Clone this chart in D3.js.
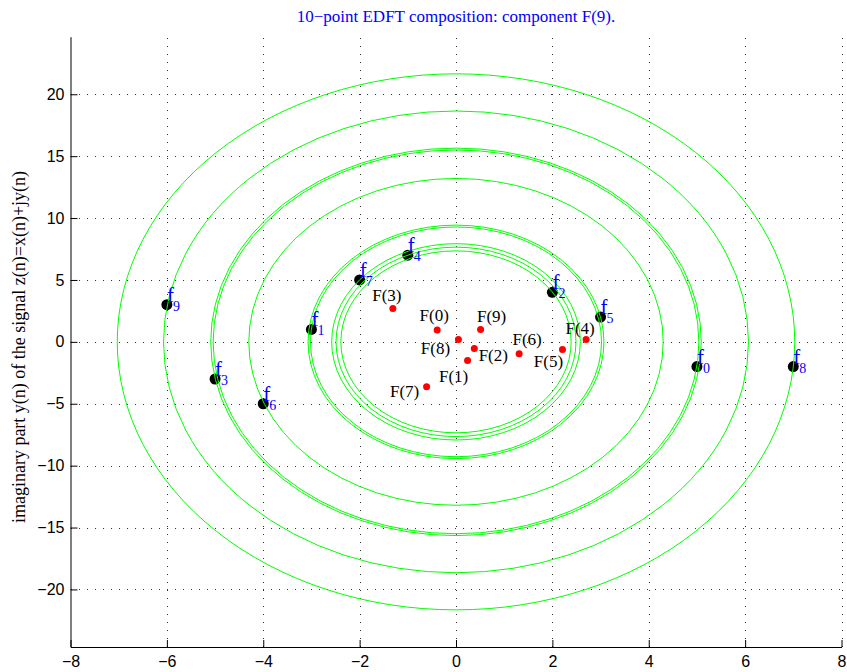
<!DOCTYPE html>
<html>
<head>
<meta charset="utf-8">
<script src="https://cdn.jsdelivr.net/npm/d3@7"></script>
<style>
    body { margin: 0; background: #fff; }
    svg { display: block; }
</style>
</head>
<body>
<script>
(function () {
    'use strict';

    // signal points f(n) = x(n) + j y(n)
    var signalX = [5, -3, 2, -5, -1, 3, -4, -2, 7, -6];
    var signalY = [-2, 1, 4, -3, 7, 2, -5, 5, -2, 3];

    // components F(k)
    var compX = [-0.39, 0.24, 0.38, -1.31, 2.70, 2.21, 1.31, -0.61, 0.05, 0.51];
    var compY = [0.95, -1.50, -0.53, 2.70, 0.19, -0.62, -0.97, -3.63, 0.19, 1.00];

    // ellipse half axes, one per signal point
    var ellRx = [7.03, 6.07, 5.09, 5.04, 4.30, 3.07, 3.02, 2.58, 2.49, 2.39];
    var ellRy = [21.65, 18.65, 15.65, 15.50, 13.20, 9.43, 9.28, 7.93, 7.65, 7.35];

    var xTicks = [-8, -6, -4, -2, 0, 2, 4, 6, 8];
    var yTicks = [-20, -15, -10, -5, 0, 5, 10, 15, 20];

    var title = '10\u2212point EDFT composition: component F(9).';
    var yTitle = 'imaginary part y(n) of the signal z(n)=x(n)+jy(n)';

    // label nudges in pixels for F(k) (layout only)
    var compLabelDx = [-3, -14, 19, -6, -6, -14, 8, -22, -23, 11];
    var compLabelDy = [-15, 16, 7, -13, -11, 12, -14, 5, 9, -13];

    var width = 847;
    var height = 672;
    var serif = '"Liberation Serif", "Times New Roman", serif';
    var sans = '"Liberation Sans", Arial, Helvetica, sans-serif';

    var x = d3.scaleLinear().domain([-8, 8]).range([70.5, 841.5]);
    var y = d3.scaleLinear().domain([-24.65, 24.65]).range([647, 36.7]);

    var svg = d3.select('body')
        .append('svg')
        .attr('width', width)
        .attr('height', height)
        ;

    // grid
    var grid = svg.append('g')
        .attr('stroke', '#333')
        .attr('stroke-width', 1)
        .attr('stroke-dasharray', '1,7')
        .attr('shape-rendering', 'crispEdges')
        ;

    grid.selectAll('line.gx')
        .data(xTicks.slice(1))
        .enter()
        .append('line')
        .attr('class', 'gx')
        .attr('x1', function (d) { return Math.round(x(d)) + 0.5; })
        .attr('x2', function (d) { return Math.round(x(d)) + 0.5; })
        .attr('y1', y.range()[0])
        .attr('y2', y.range()[1])
        ;

    grid.selectAll('line.gy')
        .data(yTicks)
        .enter()
        .append('line')
        .attr('class', 'gy')
        .attr('x1', x.range()[0])
        .attr('x2', x.range()[1])
        .attr('y1', function (d) { return Math.round(y(d)) + 0.5; })
        .attr('y2', function (d) { return Math.round(y(d)) + 0.5; })
        ;

    // signal points (drawn under the ellipses)
    svg.append('g')
        .selectAll('circle')
        .data(d3.range(signalX.length))
        .enter()
        .append('circle')
        .attr('cx', function (i) { return x(signalX[i]); })
        .attr('cy', function (i) { return y(signalY[i]); })
        .attr('r', 5.5)
        .attr('fill', '#000')
        ;

    // ellipses
    svg.append('g')
        .selectAll('ellipse')
        .data(d3.range(ellRx.length))
        .enter()
        .append('ellipse')
        .attr('cx', x(0))
        .attr('cy', y(0))
        .attr('rx', function (i) { return x(ellRx[i]) - x(0); })
        .attr('ry', function (i) { return y(0) - y(ellRy[i]); })
        .attr('fill', 'none')
        .attr('stroke', '#00ff00')
        .attr('stroke-width', 1)
        ;

    // components
    svg.append('g')
        .selectAll('circle')
        .data(d3.range(compX.length))
        .enter()
        .append('circle')
        .attr('cx', function (i) { return x(compX[i]); })
        .attr('cy', function (i) { return y(compY[i]); })
        .attr('r', 3.5)
        .attr('fill', '#ff0000')
        ;

    svg.append('g')
        .selectAll('text')
        .data(d3.range(compX.length))
        .enter()
        .append('text')
        .text(function (i) { return 'F(' + i + ')'; })
        .attr('x', function (i) { return x(compX[i]) + compLabelDx[i]; })
        .attr('y', function (i) { return y(compY[i]) + compLabelDy[i]; })
        .attr('dy', '0.33em')
        .attr('text-anchor', 'middle')
        .attr('font-family', serif)
        .attr('font-size', 17)
        .attr('fill', '#000')
        ;

    // f labels with subscripts
    var fl = svg.append('g')
        .attr('font-family', serif)
        .attr('fill', '#0000ff')
        ;

    fl.selectAll('text.f')
        .data(d3.range(signalX.length))
        .enter()
        .append('text')
        .attr('class', 'f')
        .text('f')
        .attr('x', function (i) { return x(signalX[i]); })
        .attr('y', function (i) { return y(signalY[i]) - 3; })
        .attr('font-size', 21)
        ;

    fl.selectAll('text.n')
        .data(d3.range(signalX.length))
        .enter()
        .append('text')
        .attr('class', 'n')
        .text(function (i) { return i; })
        .attr('x', function (i) { return x(signalX[i]) + 6; })
        .attr('y', function (i) { return y(signalY[i]) + 6; })
        .attr('font-size', 14)
        ;

    // axes
    var fmt = function (d) { return String(d).replace('-', '\u2212'); };

    var xAxis = svg.append('g')
        .attr('transform', 'translate(0,' + y.range()[0] + ')')
        .call(d3.axisBottom(x).tickValues(xTicks).tickSizeInner(-7).tickSizeOuter(0).tickPadding(9).tickFormat(fmt))
        ;

    var yAxis = svg.append('g')
        .attr('transform', 'translate(' + x.range()[0] + ',0)')
        .call(d3.axisLeft(y).tickValues(yTicks).tickSizeInner(-7).tickSizeOuter(0).tickPadding(6).tickFormat(fmt))
        ;

    [xAxis, yAxis].forEach(function (a) {
        a.attr('font-family', sans).attr('font-size', 16);
        a.selectAll('line').attr('stroke', '#000');
        a.select('.domain').attr('stroke', '#000');
        a.selectAll('text').attr('fill', '#000');
    });

    svg.append('text')
        .text(title)
        .attr('x', x(0))
        .attr('y', 22)
        .attr('text-anchor', 'middle')
        .attr('font-family', serif)
        .attr('font-size', 17)
        .attr('fill', '#0000ff')
        ;

    svg.append('text')
        .text(yTitle)
        .attr('transform', 'translate(25,347) rotate(-90)')
        .attr('text-anchor', 'middle')
        .attr('font-family', serif)
        .attr('font-size', 18)
        .attr('fill', '#000')
        ;

})();
</script>
</body>
</html>
